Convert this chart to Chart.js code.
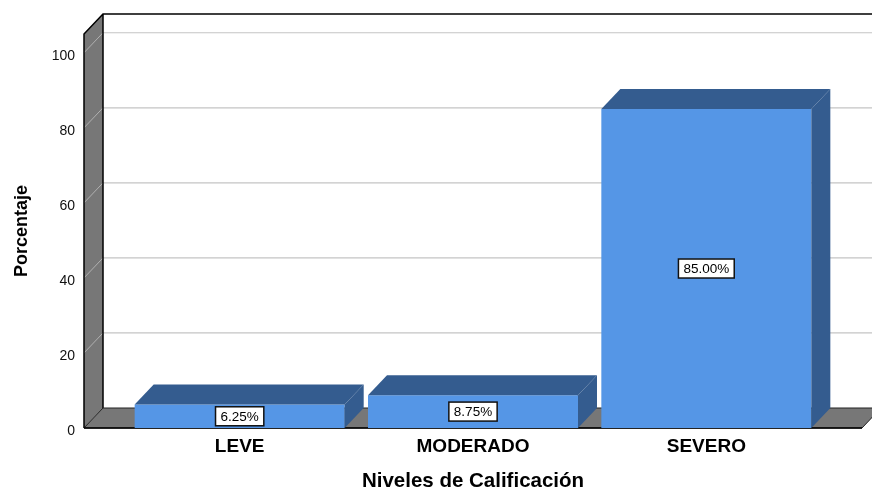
<!DOCTYPE html>
<html>
<head>
<meta charset="utf-8">
<script src="https://cdn.jsdelivr.net/npm/chart.js@4"></script>
<style>
  body { margin: 0; background: #fff; }
  #grafico { display: block; }
</style>
</head>
<body>
<canvas id="grafico" width="872" height="491"></canvas>
<script>
const categorias = ["LEVE", "MODERADO", "SEVERO"];
const porcentajes = [6.25, 8.75, 85.0];
const ticksY = [0, 20, 40, 60, 80, 100];

const fonte = "'Liberation Sans', Arial, sans-serif";
const corFrente = "#5596e6";
const corEscura = "#345c8f";
const corParede = "#777777";

// profundidade do efeito 3D
const dx = 19;
const dy = 20;
const margemParede = 39;

const efeito3D = {
  id: "efeito3D",
  beforeDatasetsDraw(chart) {
    const ctx = chart.ctx;
    const area = chart.chartArea;
    const escalaY = chart.scales.y;
    const esq = area.left - margemParede;
    const dir = area.right + margemParede;
    const topo = area.top;
    const base = area.bottom;

    ctx.save();
    ctx.lineJoin = "miter";

    // parede do fundo
    ctx.fillStyle = "#fff";
    ctx.fillRect(esq + dx, topo - dy, dir - esq + 40, base - topo);

    // linhas de grade
    ticksY.forEach((v) => {
      if (v === 0) return;
      const y = escalaY.getPixelForValue(v);
      ctx.strokeStyle = "#c4c4c4";
      ctx.lineWidth = 1.2;
      ctx.beginPath();
      ctx.moveTo(esq + dx, y - dy);
      ctx.lineTo(dir + dx + 20, y - dy);
      ctx.stroke();
    });

    // parede esquerda
    ctx.fillStyle = corParede;
    ctx.beginPath();
    ctx.moveTo(esq, topo);
    ctx.lineTo(esq + dx, topo - dy);
    ctx.lineTo(esq + dx, base - dy);
    ctx.lineTo(esq, base);
    ctx.closePath();
    ctx.fill();

    ticksY.forEach((v) => {
      if (v === 0) return;
      const y = escalaY.getPixelForValue(v);
      ctx.strokeStyle = "#b0b0b0";
      ctx.lineWidth = 1;
      ctx.beginPath();
      ctx.moveTo(esq, y);
      ctx.lineTo(esq + dx, y - dy);
      ctx.stroke();
    });

    ctx.strokeStyle = "#000";
    ctx.lineWidth = 1.5;
    ctx.beginPath();
    ctx.moveTo(esq, base);
    ctx.lineTo(esq, topo);
    ctx.lineTo(esq + dx, topo - dy);
    ctx.lineTo(dir + dx + 20, topo - dy);
    ctx.moveTo(esq + dx, topo - dy);
    ctx.lineTo(esq + dx, base - dy);
    ctx.stroke();

    // piso
    ctx.fillStyle = corParede;
    ctx.beginPath();
    ctx.moveTo(esq, base);
    ctx.lineTo(esq + dx, base - dy);
    ctx.lineTo(dir + dx, base - dy);
    ctx.lineTo(dir, base);
    ctx.closePath();
    ctx.fill();
    ctx.lineWidth = 1;
    ctx.strokeStyle = "#222";
    ctx.stroke();

    ctx.lineWidth = 1.5;
    ctx.strokeStyle = "#000";
    ctx.beginPath();
    ctx.moveTo(esq, base);
    ctx.lineTo(dir, base);
    ctx.stroke();
    ctx.restore();
  },
  afterDatasetsDraw(chart) {
    const ctx = chart.ctx;
    const meta = chart.getDatasetMeta(0);
    ctx.save();
    meta.data.forEach((barra, i) => {
      const x1 = barra.x - barra.width / 2;
      const x2 = barra.x + barra.width / 2;
      const yTopo = barra.y;
      const yBase = barra.base;

      ctx.fillStyle = corEscura;
      // face de cima
      ctx.beginPath();
      ctx.moveTo(x1, yTopo);
      ctx.lineTo(x1 + dx, yTopo - dy);
      ctx.lineTo(x2 + dx, yTopo - dy);
      ctx.lineTo(x2, yTopo);
      ctx.closePath();
      ctx.fill();
      // face lateral
      ctx.beginPath();
      ctx.moveTo(x2, yTopo);
      ctx.lineTo(x2 + dx, yTopo - dy);
      ctx.lineTo(x2 + dx, yBase - dy);
      ctx.lineTo(x2, yBase);
      ctx.closePath();
      ctx.fill();

      // rótulo do valor
      const texto = porcentajes[i].toFixed(2) + "%";
      ctx.font = "13.5px " + fonte;
      const largura = ctx.measureText(texto).width + 10;
      const altura = 19;
      const cy = (yTopo + yBase) / 2;
      ctx.fillStyle = "#fff";
      ctx.fillRect(barra.x - largura / 2, cy - altura / 2, largura, altura);
      ctx.strokeStyle = "#111";
      ctx.lineWidth = 1.5;
      ctx.strokeRect(barra.x - largura / 2, cy - altura / 2, largura, altura);
      ctx.fillStyle = "#000";
      ctx.textAlign = "center";
      ctx.textBaseline = "middle";
      ctx.fillText(texto, barra.x, cy + 1);
    });
    ctx.restore();
  },
};

const grafico = document.getElementById("grafico");

const graficoNiveles = new Chart(grafico, {
  type: "bar",
  data: {
    labels: categorias,
    datasets: [
      {
        label: "Porcentaje",
        data: porcentajes,
        backgroundColor: corFrente,
        borderWidth: 0,
        categoryPercentage: 1,
        barPercentage: 0.9,
      },
    ],
  },
  options: {
    responsive: false,
    animation: false,
    devicePixelRatio: 1,
    layout: {
      padding: { left: 0, right: 49, top: 34, bottom: 0 },
    },
    plugins: {
      legend: { display: false },
      tooltip: { enabled: false },
    },
    scales: {
      x: {
        grid: { display: false, drawTicks: false },
        border: { display: false },
        ticks: {
          color: "#000",
          padding: 7,
          font: { family: fonte, size: 19, weight: "bold" },
        },
        title: {
          display: true,
          text: "Niveles de Calificación",
          color: "#000",
          font: { family: fonte, size: 20.5, weight: "bold", lineHeight: 1 },
          padding: { top: 0, bottom: -1 },
        },
        afterFit: (escala) => {
          escala.height = 63;
        },
      },
      y: {
        min: 0,
        max: 105,
        grid: { display: false, drawTicks: false },
        border: { display: false },
        afterBuildTicks: (escala) => {
          escala.ticks = ticksY.map((v) => ({ value: v }));
        },
        ticks: {
          color: "#111",
          padding: 48,
          labelOffset: 3,
          font: { family: fonte, size: 14 },
        },
        title: {
          display: true,
          text: "Porcentaje",
          color: "#000",
          font: { family: fonte, size: 18, weight: "bold", lineHeight: 1 },
          padding: { top: 13, bottom: 0 },
        },
        afterFit: (escala) => {
          escala.width = 123;
          escala.paddingTop = 0;
          escala.paddingBottom = 0;
        },
      },
    },
  },
  plugins: [efeito3D],
});
</script>
</body>
</html>
